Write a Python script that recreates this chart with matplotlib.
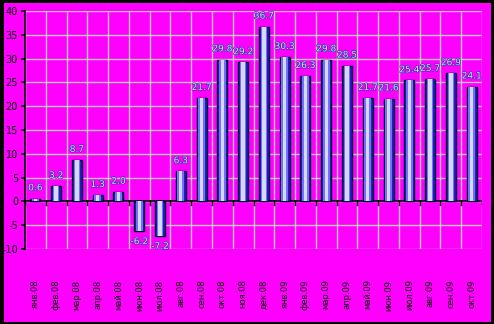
import matplotlib
matplotlib.use("Agg")
import matplotlib.pyplot as plt
import matplotlib.patheffects as pe
from matplotlib.patches import Rectangle

months = ["янв.08", "фев.08", "мар.08", "апр.08", "май.08", "июн.08", "июл.08", "авг.08",
          "сен.08", "окт.08", "ноя.08", "дек.08", "янв.09", "фев.09", "мар.09", "апр.09",
          "май.09", "июн.09", "июл.09", "авг.09", "сен.09", "окт.09"]
values = [0.6, 3.2, 8.7, 1.3, 2.0, -6.2, -7.2, 6.3, 21.7, 29.8, 29.2, 36.7,
          30.3, 26.3, 29.8, 28.5, 21.7, 21.6, 25.4, 25.7, 26.9, 24.1]
yticks = [-10, -5, 0, 5, 10, 15, 20, 25, 30, 35, 40]

fig = plt.figure(figsize=(4.94, 3.24), dpi=100, facecolor="black")
# magenta panel inside black frame
fig.patches.append(Rectangle((4/494, 2/324), 487/494, 319/324, transform=fig.transFigure,
                             facecolor="#ff00ff", edgecolor="none", zorder=-5))

ax = fig.add_axes([25/494, 75/324, 457/494, 238/324])
ax.set_facecolor("#ff00ff")

x = list(range(len(values)))

# cylinder-ish bars: dark outline, blue body, light core
ax.bar(x, values, width=0.48, color="#2020c0", edgecolor="#000030", linewidth=1.0, zorder=3)
ax.bar(x, values, width=0.32, color="#7070ff", linewidth=0, zorder=4)
ax.bar(x, values, width=0.16, color="#d8d8ff", linewidth=0, zorder=5)

for xi, v in zip(x, values):
    off = 1.3 if v >= 0 else -1.3
    ax.text(xi, v + off, f"{v:.1f}", ha="center", va="bottom" if v >= 0 else "top",
            fontsize=6.5, color="#d8d8ff", zorder=6,
            path_effects=[pe.withStroke(linewidth=0.9, foreground="#3030a0")])

ax.set_xlim(-0.5, len(values) - 0.5)
ax.set_ylim(-10, 40)

for i in range(len(values) + 1):
    ax.axvline(i - 0.5, color="#c8c8c8", linewidth=1.0, zorder=1, snap=True)
for t in yticks:
    ax.axhline(t, color="#c8c8c8", linewidth=1.0, zorder=1, snap=True)
ax.axhline(0, color="black", linewidth=1.2, zorder=2)
# small ticks under zero line at category boundaries
for i in range(len(values) + 1):
    ax.plot([i - 0.5, i - 0.5], [0, -0.7], color="black", linewidth=1, zorder=2)

for s in ["top", "right", "bottom"]:
    ax.spines[s].set_visible(False)
ax.spines["left"].set_color("black")
ax.spines["left"].set_linewidth(1.2)

ax.set_yticks(yticks)
ax.set_yticklabels([str(t) for t in yticks], fontsize=7, color="black")
ax.tick_params(axis="y", length=3, width=1.2, color="black", pad=2)

ax.set_xticks(x)
ax.set_xticklabels(months, rotation=90, fontsize=6, color="black")
ax.tick_params(axis="x", length=0, pad=22)

fig.savefig("out.png", dpi=100, facecolor=fig.get_facecolor())
